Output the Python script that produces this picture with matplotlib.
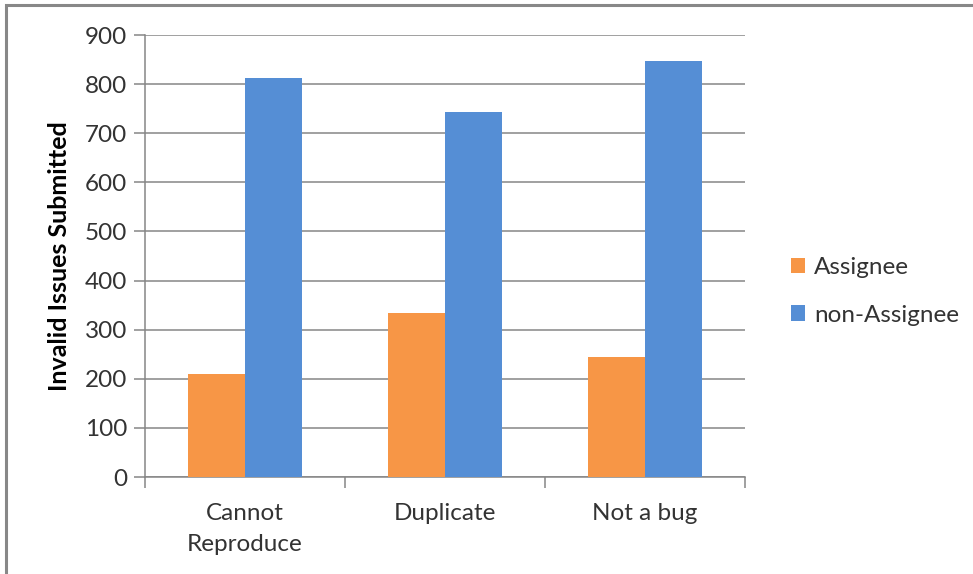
import numpy as np
import matplotlib.pyplot as plt
from matplotlib.patches import Rectangle

plt.rcParams['font.family'] = ['Lato', 'DejaVu Sans']

categories = ['Cannot\nReproduce', 'Duplicate', 'Not a bug']
assignee = [210, 334, 244]
non_assignee = [812, 743, 847]
series_names = ['Assignee', 'non-Assignee']
colors = ['#F79646', '#558ED5']

fig = plt.figure(figsize=(9.73, 5.74), dpi=100)
ax = fig.add_axes([145 / 973, 97 / 574, 600 / 973, 442 / 574])

x = np.arange(len(categories))
w = 1 / 3.5
ax.bar(x - w / 2, assignee, w, color=colors[0], label=series_names[0], zorder=3)
ax.bar(x + w / 2, non_assignee, w, color=colors[1], label=series_names[1], zorder=3)

ax.set_xlim(-0.5, len(categories) - 0.5)
ax.set_ylim(0, 900)
ax.set_yticks(range(0, 901, 100))
ax.yaxis.grid(True, color='#868686', linewidth=1.1, zorder=0)

# category labels between boundary ticks
ax.set_xticks(np.arange(-0.5, len(categories), 1))
ax.set_xticklabels([])
ax.set_xticks(x, minor=True)
ax.set_xticklabels(categories, minor=True, fontsize=17.5, color='#333333', linespacing=1.55)
ax.tick_params(axis='x', which='minor', length=0, pad=19)
ax.tick_params(axis='x', which='major', length=8, width=1.1, color='#868686', direction='out')
ax.tick_params(axis='y', length=8, width=1.1, color='#868686', direction='out',
               labelsize=17.5, labelcolor='#333333', pad=5)

for side in ['top', 'right']:
    ax.spines[side].set_visible(False)
for side in ['left', 'bottom']:
    ax.spines[side].set_color('#868686')
    ax.spines[side].set_linewidth(1.1)

ax.set_ylabel('Invalid Issues Submitted', fontsize=18, fontweight='bold', labelpad=10)

ax.legend(loc='center left', bbox_to_anchor=(1.04, 0.42), frameon=False,
          fontsize=17.5, handlelength=0.6, handleheight=0.6, handletextpad=0.35,
          labelspacing=1.1, labelcolor='#333333')

# outer chart frame (left and top edges)
fig.patches.append(Rectangle((6 / 973, -0.1), 1.2, 1.1 - 5 / 574, transform=fig.transFigure,
                             fill=False, edgecolor='#888888', linewidth=2.2))

fig.savefig('out.png', dpi=100)
